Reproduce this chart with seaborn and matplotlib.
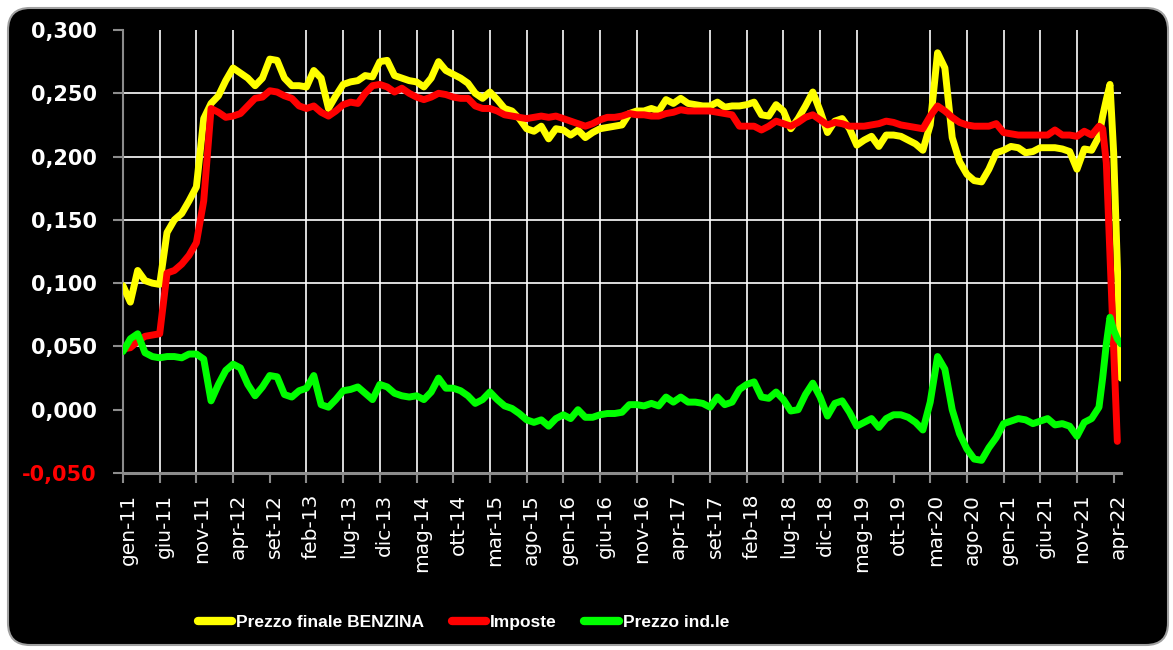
import pandas as pd
import seaborn as sns
import matplotlib.pyplot as plt
from matplotlib.patches import FancyBboxPatch
from matplotlib.transforms import IdentityTransform, ScaledTranslation
from matplotlib.lines import Line2D

# mesi da gen-11 (0) in avanti, con qualche punto in piu' alla fine
months = list(range(134)) + [133.5, 134, 134.5, 135, 135.5, 136]

prezzo_finale = [
    0.098, 0.085, 0.110, 0.102, 0.100, 0.099, 0.140, 0.150, 0.155, 0.165,
    0.176, 0.230, 0.242, 0.248, 0.260, 0.270, 0.266, 0.262, 0.256, 0.262,
    0.277, 0.276, 0.262, 0.256, 0.256, 0.255, 0.268, 0.262, 0.238, 0.248,
    0.257, 0.259, 0.260, 0.264, 0.263, 0.275, 0.276, 0.264, 0.262, 0.260,
    0.259, 0.255, 0.262, 0.275, 0.268, 0.265, 0.262, 0.258, 0.250, 0.246,
    0.251, 0.245, 0.238, 0.236, 0.230, 0.222, 0.220, 0.224, 0.214, 0.222,
    0.221, 0.217, 0.221, 0.215, 0.219, 0.222, 0.223, 0.224, 0.225, 0.234,
    0.236, 0.236, 0.238, 0.236, 0.245, 0.242, 0.246, 0.242, 0.241, 0.240,
    0.240, 0.243, 0.239, 0.240, 0.240, 0.241, 0.243, 0.233, 0.232, 0.241,
    0.236, 0.222, 0.230, 0.240, 0.251, 0.236, 0.219, 0.228, 0.230, 0.222,
    0.209, 0.213, 0.216, 0.208, 0.217, 0.217, 0.216, 0.213, 0.210, 0.205,
    0.225, 0.282, 0.270, 0.215, 0.196, 0.186, 0.181, 0.180, 0.190, 0.203,
    0.205, 0.208, 0.207, 0.203, 0.204, 0.207, 0.207, 0.207, 0.206, 0.204,
    0.190, 0.206, 0.205, 0.216,
    0.232, 0.245, 0.257, 0.203, 0.114, 0.025,
]

imposte = [
    0.048, 0.049, 0.054, 0.058, 0.059, 0.060, 0.108, 0.110, 0.115, 0.122,
    0.132, 0.165, 0.238, 0.235, 0.231, 0.232, 0.234, 0.240, 0.246, 0.247,
    0.252, 0.251, 0.248, 0.246, 0.240, 0.238, 0.240, 0.235, 0.232, 0.236,
    0.241, 0.243, 0.242, 0.250, 0.256, 0.257, 0.255, 0.251, 0.254, 0.250,
    0.247, 0.245, 0.247, 0.250, 0.249, 0.247, 0.246, 0.246, 0.240, 0.238,
    0.238, 0.236, 0.233, 0.232, 0.231, 0.230, 0.231, 0.232, 0.231, 0.232,
    0.230, 0.228, 0.226, 0.224, 0.226, 0.229, 0.231, 0.231, 0.232, 0.234,
    0.233, 0.233, 0.232, 0.232, 0.234, 0.235, 0.237, 0.236, 0.236, 0.236,
    0.236, 0.235, 0.234, 0.233, 0.224, 0.224, 0.224, 0.221, 0.224, 0.228,
    0.226, 0.224, 0.227, 0.231, 0.233, 0.229, 0.225, 0.227, 0.226, 0.224,
    0.224, 0.224, 0.225, 0.226, 0.228, 0.227, 0.225, 0.224, 0.223, 0.222,
    0.232, 0.240, 0.236, 0.231, 0.227, 0.225, 0.224, 0.224, 0.224, 0.226,
    0.219, 0.218, 0.217, 0.217, 0.217, 0.217, 0.217, 0.221, 0.217, 0.217,
    0.216, 0.220, 0.217, 0.224,
    0.222, 0.195, 0.122, 0.048, -0.025, None,
]

prezzo_industriale = [
    0.046, 0.056, 0.060, 0.045, 0.042, 0.041, 0.042, 0.042, 0.041, 0.044,
    0.044, 0.040, 0.007, 0.020, 0.031, 0.036, 0.033, 0.020, 0.011, 0.018,
    0.027, 0.026, 0.012, 0.010, 0.015, 0.017, 0.027, 0.004, 0.002, 0.008,
    0.015, 0.016, 0.018, 0.013, 0.008, 0.020, 0.018, 0.013, 0.011, 0.010,
    0.011, 0.008, 0.014, 0.025, 0.017, 0.017, 0.015, 0.011, 0.005, 0.008,
    0.014, 0.008, 0.003, 0.001, -0.003, -0.008, -0.010, -0.008, -0.013, -0.007,
    -0.004, -0.007, 0.000, -0.006, -0.006, -0.004, -0.003, -0.003, -0.002, 0.004,
    0.004, 0.003, 0.005, 0.003, 0.010, 0.006, 0.010, 0.006, 0.006, 0.005,
    0.002, 0.010, 0.004, 0.006, 0.016, 0.020, 0.022, 0.010, 0.009, 0.014,
    0.008, -0.001, 0.000, 0.012, 0.021, 0.010, -0.005, 0.005, 0.007, -0.002,
    -0.013, -0.010, -0.007, -0.014, -0.007, -0.004, -0.004, -0.006, -0.010, -0.016,
    0.006, 0.042, 0.032, 0.000, -0.019, -0.031, -0.039, -0.040, -0.030, -0.022,
    -0.011, -0.009, -0.007, -0.008, -0.011, -0.009, -0.007, -0.012, -0.011, -0.013,
    -0.021, -0.010, -0.007, 0.002,
    0.025, 0.052, 0.073, 0.063, 0.056, 0.052,
]

series = ['Prezzo finale BENZINA', 'Imposte', 'Prezzo ind.le']
colors = ['#ffff00', '#ff0000', '#00ff00']

x_ticks = list(range(0, 136, 5))
x_labels = ['gen-11', 'giu-11', 'nov-11', 'apr-12', 'set-12', 'feb-13', 'lug-13',
            'dic-13', 'mag-14', 'ott-14', 'mar-15', 'ago-15', 'gen-16', 'giu-16',
            'nov-16', 'apr-17', 'set-17', 'feb-18', 'lug-18', 'dic-18', 'mag-19',
            'ott-19', 'mar-20', 'ago-20', 'gen-21', 'giu-21', 'nov-21', 'apr-22']
y_ticks = [-0.05, 0.0, 0.05, 0.10, 0.15, 0.20, 0.25, 0.30]
y_labels = ['-0,050', '0,000', '0,050', '0,100', '0,150', '0,200', '0,250', '0,300']

# griglia: nell'originale alcune linee mancano
x_grid = [t for i, t in enumerate(x_ticks) if i not in (4, 15, 21, 27)]
y_grid = [0.05, 0.10, 0.15, 0.20, 0.25]

# long format per seaborn
df = pd.DataFrame({
    'mese': months * 3,
    'valore': prezzo_finale + imposte + prezzo_industriale,
    'serie': sum([[s] * len(months) for s in series], []),
}).dropna()

fig = plt.figure(figsize=(11.73, 6.5), dpi=100, facecolor='white')

# pannello nero arrotondato dietro al grafico
panel = FancyBboxPatch((8, 5), 1160, 637, boxstyle='round,pad=0,rounding_size=22',
                       transform=IdentityTransform(), facecolor='black',
                       edgecolor='#a0a0a0', linewidth=1.5, zorder=-5)
fig.add_artist(panel)

rect = [123 / 1173, 1 - 473 / 650, (1121 - 123) / 1173, (473 - 30) / 650]

# assi di sfondo solo per la griglia
gax = fig.add_axes(rect, zorder=-1)
gax.set_facecolor('black')
gax.set_xlim(0, 136)
gax.set_ylim(-0.05, 0.30)
gax.vlines(x_grid, -0.05, 0.30, color='white', linewidth=1.2)
gax.hlines(y_grid, 0, 136, color='white', linewidth=1.2)
gax.set_axis_off()

ax = fig.add_axes(rect, zorder=1)
ax.patch.set_visible(False)

sns.lineplot(data=df, x='mese', y='valore', hue='serie', hue_order=series,
             palette=colors, linewidth=5, estimator=None, sort=False, legend=False,
             ax=ax, solid_joinstyle='round', solid_capstyle='round', zorder=4)

ax.set_xlim(0, 136)
ax.set_ylim(-0.05, 0.30)
ax.set_xlabel('')
ax.set_ylabel('')

ax.set_xticks(x_ticks)
ax.set_xticklabels(x_labels, rotation=90, color='white', fontsize=14.5)
ax.set_yticks(y_ticks)
ax.set_yticklabels(y_labels, fontsize=15, fontweight='bold', color='white')
ax.get_yticklabels()[0].set_color('red')

ax.tick_params(axis='both', color='#8c8c8c', length=7, width=1.5)
ax.tick_params(axis='y', pad=12)
ax.tick_params(axis='x', pad=8)
for side in ['top', 'right']:
    ax.spines[side].set_visible(False)
ax.spines['left'].set_color('#8c8c8c')
ax.spines['left'].set_linewidth(1.5)
ax.spines['bottom'].set_color('#8c8c8c')
ax.spines['bottom'].set_linewidth(2.2)

offset = ScaledTranslation(0.05, 0, fig.dpi_scale_trans)
for lab in ax.get_xticklabels():
    lab.set_transform(lab.get_transform() + offset)

handles = [Line2D([], [], color=c, linewidth=6, solid_capstyle='round') for c in colors]
fig.legend(handles, series, loc='center', bbox_to_anchor=(0.395, 0.042), ncol=3,
           frameon=False, handlelength=2.0, handletextpad=0.2, columnspacing=1.6,
           prop={'family': 'Liberation Sans', 'weight': 'bold', 'size': 12.5},
           labelcolor='white')

fig.savefig('out.png', dpi=100, facecolor='white')
